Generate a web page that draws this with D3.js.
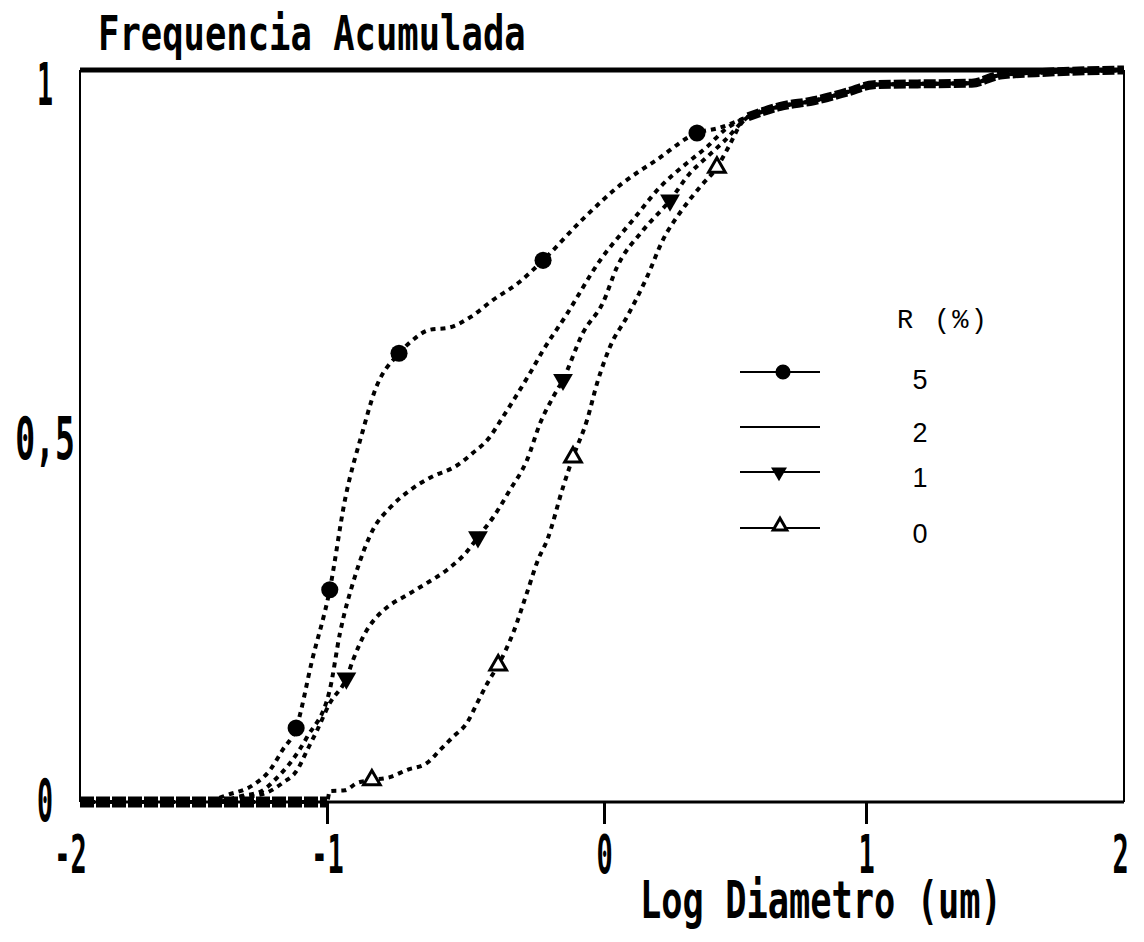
<!DOCTYPE html>
<html>
<head>
<meta charset="utf-8">
<script src="https://cdn.jsdelivr.net/npm/d3@7/dist/d3.min.js"></script>
<style>
  html, body { margin: 0; padding: 0; background: #fff; }
  svg { display: block; }
</style>
</head>
<body>
<div id="chart"></div>
<script>
// cumulative frequency vs log diameter
var xTicks = [-2, -1, 0, 1, 2];
var yTicks = [0, 0.5, 1];

// R = 5 %
var s5X = [-2, -1.51, -1.40, -1.30, -1.23, -1.18, -1.125, -1.06, -0.99, -0.935, -0.87, -0.83, -0.74, -0.70, -0.63, -0.56, -0.48, -0.40, -0.31, -0.22, -0.08, 0.073, 0.20, 0.355, 0.44];
var s5Y = [0, 0, 0.01, 0.023, 0.044, 0.071, 0.101, 0.194, 0.29, 0.413, 0.508, 0.559, 0.613, 0.628, 0.645, 0.648, 0.663, 0.686, 0.709, 0.740, 0.795, 0.846, 0.877, 0.914, 0.921];
// R = 2 %
var s2X = [-2, -1.45, -1.35, -1.27, -1.20, -1.15, -1.08, -0.99, -0.953, -0.90, -0.834, -0.77, -0.70, -0.628, -0.53, -0.473, -0.42, -0.365, -0.32, -0.267, -0.22, -0.14, -0.014, 0.11, 0.214, 0.317, 0.393, 0.46];
var s2Y = [0, 0, 0.008, 0.014, 0.034, 0.053, 0.089, 0.153, 0.231, 0.307, 0.372, 0.403, 0.426, 0.443, 0.460, 0.477, 0.495, 0.526, 0.553, 0.586, 0.617, 0.663, 0.740, 0.795, 0.840, 0.873, 0.895, 0.918];
// R = 1 %
var s1X = [-2, -1.45, -1.35, -1.25, -1.18, -1.12, -1.08, -1.04, -0.99, -0.93, -0.906, -0.856, -0.82, -0.783, -0.71, -0.64, -0.567, -0.495, -0.455, -0.40, -0.34, -0.278, -0.23, -0.184, -0.148, -0.076, -0.004, 0.05, 0.149, 0.252, 0.328, 0.393, 0.462];
var s1Y = [0, 0, 0.006, 0.012, 0.026, 0.044, 0.071, 0.098, 0.135, 0.169, 0.194, 0.235, 0.253, 0.266, 0.283, 0.299, 0.317, 0.342, 0.362, 0.389, 0.426, 0.467, 0.518, 0.553, 0.577, 0.641, 0.682, 0.731, 0.781, 0.822, 0.859, 0.881, 0.904];
// R = 0 %
var s0X = [-2, -1.0, -0.99, -0.935, -0.892, -0.838, -0.773, -0.71, -0.64, -0.592, -0.545, -0.495, -0.458, -0.42, -0.382, -0.328, -0.278, -0.238, -0.205, -0.148, -0.112, -0.061, -0.025, 0.023, 0.088, 0.164, 0.225, 0.29, 0.366, 0.431, 0.48, 0.52];
var s0Y = [0, 0, 0.015, 0.016, 0.026, 0.030, 0.034, 0.044, 0.053, 0.071, 0.089, 0.108, 0.135, 0.163, 0.187, 0.231, 0.286, 0.331, 0.358, 0.430, 0.471, 0.522, 0.572, 0.622, 0.663, 0.717, 0.768, 0.805, 0.840, 0.867, 0.898, 0.925];

// shared upper part where all four curves coincide
var tailX = [0.55, 0.67, 0.80, 0.93, 1.03, 1.2, 1.41, 1.52, 1.7, 2.0];
var tailY = [0.936, 0.950, 0.958, 0.970, 0.980, 0.981, 0.982, 0.993, 0.997, 1.0];
// shared zero part
var headX = [-2, -1.0];
var headY = [0, 0];

// marker positions
var m5X = [-1.125, -0.99, -0.74, -0.22, 0.355];
var m5Y = [0.101, 0.29, 0.613, 0.740, 0.914];
var m1X = [-0.93, -0.455, -0.148, 0.252];
var m1Y = [0.169, 0.362, 0.577, 0.822];
var m0X = [-0.838, -0.382, -0.112, 0.431];
var m0Y = [0.030, 0.187, 0.471, 0.867];

var legendLabels = ["5", "2", "1", "0"];
var legendSymbols = ["circle", "none", "down", "up"];

var width = 1144, height = 942;

var svg = d3.select("#chart").append("svg")
    .attr("width", width)
    .attr("height", height);

// scan is slightly stretched, so the x scale is piecewise
var x = d3.scaleLinear().domain(xTicks).range([80, 327, 604, 866, 1124]);
var y = d3.scaleLinear().domain([0, 1]).range([802, 70]);

var plotFont = "'DejaVu Sans Mono', monospace";

// condensed plotter-style text: squeeze horizontally with a transform
function narrowText(parent, tx, ty, sx, size, str) {
    return parent.append("text")
        .attr("transform", "translate(" + tx + "," + ty + ") scale(" + sx + ",1)")
        .attr("font-family", plotFont)
        .attr("font-weight", "bold")
        .attr("font-size", size)
        .text(str);
}

// title
narrowText(svg, 98, 50, 0.74, 48, "Frequencia Acumulada");

// frame
var x0 = x(-2), x1 = x(2), yTop = y(1), yBot = y(0);
svg.append("line").attr("x1", x0).attr("x2", x0).attr("y1", yTop).attr("y2", yBot)
    .attr("stroke", "#000").attr("stroke-width", 2);
svg.append("line").attr("x1", x1).attr("x2", x1).attr("y1", yTop).attr("y2", yBot)
    .attr("stroke", "#000").attr("stroke-width", 2);
svg.append("line").attr("x1", x0).attr("x2", x1).attr("y1", yTop).attr("y2", yTop)
    .attr("stroke", "#000").attr("stroke-width", 5);
svg.append("line").attr("x1", x0).attr("x2", x1).attr("y1", yBot).attr("y2", yBot)
    .attr("stroke", "#000").attr("stroke-width", 3);

// x axis
var xAxis = d3.axisBottom(x)
    .tickValues(xTicks)
    .tickSize(22)
    .tickFormat(function (d) { return d < 0 ? "-" + Math.abs(d) : String(d); });
var gx = svg.append("g")
    .attr("transform", "translate(0," + yBot + ")")
    .call(xAxis);
gx.select(".domain").remove();
gx.selectAll(".tick line")
    .attr("stroke", "#000")
    .attr("stroke-width", 3)
    .attr("display", function (d) { return (d === -2 || d === 2) ? "none" : null; });
gx.selectAll(".tick text")
    .attr("fill", "#000")
    .attr("font-family", plotFont)
    .attr("font-weight", "bold")
    .attr("font-size", 54)
    .attr("y", 0)
    .attr("dy", "0.71em")
    .attr("transform", function (d) {
        var dx = d === -2 ? -10 : (d === 2 ? -4 : 0);
        return "translate(" + dx + ",33) scale(0.5,1)";
    });

// y axis
var yAxis = d3.axisLeft(y)
    .tickValues(yTicks)
    .tickSize(0)
    .tickFormat(function (d) { return d === 0.5 ? "0,5" : String(d); });
var gy = svg.append("g")
    .attr("transform", "translate(" + x0 + ",0)")
    .call(yAxis);
gy.select(".domain").remove();
gy.selectAll(".tick text")
    .attr("fill", "#000")
    .attr("font-family", plotFont)
    .attr("font-weight", "bold")
    .attr("font-size", 58)
    .attr("text-anchor", "middle")
    .attr("x", 0)
    .attr("transform", function (d) {
        var dy = d === 1 ? 16 : (d === 0.5 ? 4 : 0);
        var sx = d === 0.5 ? 0.57 : 0.46;
        return "translate(-35," + dy + ") scale(" + sx + ",1)";
    });

// x axis title
narrowText(svg, 640, 918, 0.68, 52, "Log Diametro (um)");

// curves
var line = d3.line()
    .x(function (d) { return x(d[0]); })
    .y(function (d) { return y(d[1]); })
    .curve(d3.curveMonotoneX);

function pairs(xs, ys) { return xs.map(function (v, i) { return [v, ys[i]]; }); }

var series = [
    pairs(s5X, s5Y).concat(pairs(tailX, tailY)),
    pairs(s2X, s2Y).concat(pairs(tailX, tailY)),
    pairs(s1X, s1Y).concat(pairs(tailX, tailY)),
    pairs(s0X, s0Y).concat(pairs(tailX, tailY))
];

svg.append("g").selectAll("path")
    .data(series)
    .enter().append("path")
    .attr("d", line)
    .attr("fill", "none")
    .attr("stroke", "#000")
    .attr("stroke-width", 4)
    .attr("stroke-dasharray", "5,5");

// heavy overlap where the curves coincide
svg.append("path")
    .attr("d", line(pairs(tailX, tailY)))
    .attr("fill", "none")
    .attr("stroke", "#000")
    .attr("stroke-width", 9)
    .attr("stroke-dasharray", "12,3");
svg.append("path")
    .attr("d", d3.line().x(function (d) { return x(d[0]); }).y(function (d) { return y(d[1]); })(pairs(headX, headY)))
    .attr("fill", "none")
    .attr("stroke", "#000")
    .attr("stroke-width", 11)
    .attr("stroke-dasharray", "14,2");

// markers
var circleSym = d3.symbol().type(d3.symbolCircle).size(230);
var triSym = d3.symbol().type(d3.symbolTriangle).size(170);
var triOpen = d3.symbol().type(d3.symbolTriangle).size(120);

svg.append("g").selectAll("path")
    .data(pairs(m5X, m5Y))
    .enter().append("path")
    .attr("d", circleSym)
    .attr("transform", function (d) { return "translate(" + x(d[0]) + "," + y(d[1]) + ")"; })
    .attr("fill", "#000");

svg.append("g").selectAll("path")
    .data(pairs(m1X, m1Y))
    .enter().append("path")
    .attr("d", triSym)
    .attr("transform", function (d) { return "translate(" + x(d[0]) + "," + y(d[1]) + ") rotate(180)"; })
    .attr("fill", "#000");

svg.append("g").selectAll("path")
    .data(pairs(m0X, m0Y))
    .enter().append("path")
    .attr("d", triOpen)
    .attr("transform", function (d) { return "translate(" + x(d[0]) + "," + y(d[1]) + ")"; })
    .attr("fill", "#fff")
    .attr("stroke", "#000")
    .attr("stroke-width", 3);

// legend
var legend = svg.append("g").attr("transform", "translate(740,0)");
legend.append("text")
    .attr("x", 157).attr("y", 328)
    .attr("font-family", "'Liberation Mono', 'Courier New', monospace")
    .attr("font-size", 27)
    .attr("textLength", 90)
    .attr("lengthAdjust", "spacing")
    .text("R (%)");

var rowY = [372, 427, 472, 528];
var rows = legend.selectAll("g.row")
    .data(legendLabels)
    .enter().append("g")
    .attr("class", "row")
    .attr("transform", function (d, i) { return "translate(0," + rowY[i] + ")"; });

rows.append("line")
    .attr("x1", 0).attr("x2", 80)
    .attr("stroke", "#000")
    .attr("stroke-width", 2);

rows.append("text")
    .attr("x", 180)
    .attr("y", function (d, i) { return i === 0 ? 17 : 15; })
    .attr("text-anchor", "middle")
    .attr("font-family", "'Liberation Sans', Arial, sans-serif")
    .attr("font-size", 27)
    .text(function (d) { return d; });

rows.each(function (d, i) {
    var g = d3.select(this);
    var kind = legendSymbols[i];
    if (kind === "circle") {
        g.append("path").attr("d", d3.symbol().type(d3.symbolCircle).size(180)())
            .attr("transform", "translate(43,0)").attr("fill", "#000");
    } else if (kind === "down") {
        g.append("path").attr("d", d3.symbol().type(d3.symbolTriangle).size(110)())
            .attr("transform", "translate(39,0) rotate(180)").attr("fill", "#000");
    } else if (kind === "up") {
        g.append("path").attr("d", d3.symbol().type(d3.symbolTriangle).size(80)())
            .attr("transform", "translate(40,-2)").attr("fill", "#fff")
            .attr("stroke", "#000").attr("stroke-width", 3);
    }
});
</script>
</body>
</html>
